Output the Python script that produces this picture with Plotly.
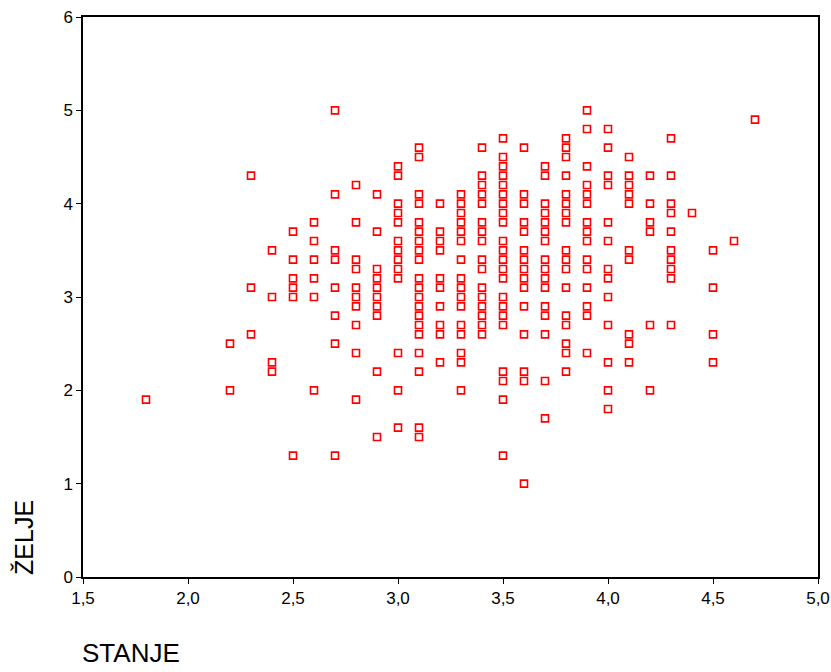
import plotly.graph_objects as go

# STANJE values (x columns) and the ŽELJE values observed at each column
stanje_cols = [1.8, 2.2, 2.3, 2.4, 2.5, 2.6, 2.7, 2.8, 2.9, 3.0, 3.1, 3.2, 3.3,
               3.4, 3.5, 3.6, 3.7, 3.8, 3.9, 4.0, 4.1, 4.2, 4.3, 4.4, 4.5, 4.6, 4.7]
zelje_cols = [
    [1.9],
    [2.5, 2.0],
    [4.3, 3.1, 2.6],
    [3.5, 3.0, 2.3, 2.2],
    [3.7, 3.4, 3.2, 3.1, 3.0, 1.3],
    [3.8, 3.6, 3.4, 3.2, 3.0, 2.0],
    [5.0, 4.1, 3.5, 3.4, 3.1, 2.8, 2.5, 1.3],
    [4.2, 3.8, 3.4, 3.3, 3.1, 3.0, 2.9, 2.7, 2.4, 1.9],
    [4.1, 3.7, 3.3, 3.2, 3.1, 3.0, 2.9, 2.8, 2.2, 1.5],
    [4.4, 4.3, 4.0, 3.9, 3.8, 3.6, 3.5, 3.4, 3.3, 3.2, 2.4, 2.0, 1.6],
    [4.6, 4.5, 4.1, 4.0, 3.8, 3.7, 3.6, 3.5, 3.4, 3.2, 3.1, 3.0, 2.9, 2.8, 2.7, 2.6, 2.4, 2.2, 1.6, 1.5],
    [4.0, 3.7, 3.6, 3.5, 3.2, 3.1, 2.9, 2.7, 2.6, 2.3],
    [4.1, 4.0, 3.9, 3.8, 3.7, 3.6, 3.4, 3.2, 3.1, 3.0, 2.9, 2.7, 2.6, 2.4, 2.3, 2.0],
    [4.6, 4.3, 4.2, 4.1, 4.0, 3.8, 3.7, 3.6, 3.4, 3.3, 3.1, 3.0, 2.9, 2.8, 2.7, 2.6],
    [4.7, 4.5, 4.4, 4.3, 4.2, 4.1, 4.0, 3.9, 3.8, 3.6, 3.5, 3.4, 3.3, 3.2, 3.0, 2.9, 2.8, 2.7, 2.2, 2.1, 1.9, 1.3],
    [4.6, 4.1, 4.0, 3.8, 3.7, 3.5, 3.4, 3.3, 3.2, 3.1, 2.9, 2.6, 2.2, 2.1, 1.0],
    [4.4, 4.3, 4.0, 3.9, 3.8, 3.7, 3.6, 3.4, 3.3, 3.2, 3.1, 2.9, 2.8, 2.6, 2.1, 1.7],
    [4.7, 4.6, 4.5, 4.3, 4.1, 4.0, 3.9, 3.8, 3.5, 3.4, 3.3, 3.1, 2.8, 2.7, 2.5, 2.4, 2.2],
    [5.0, 4.8, 4.4, 4.2, 4.1, 4.0, 3.8, 3.7, 3.6, 3.4, 3.3, 3.1, 2.9, 2.8, 2.4],
    [4.8, 4.6, 4.3, 4.2, 3.8, 3.6, 3.3, 3.2, 3.0, 2.7, 2.3, 2.0, 1.8],
    [4.5, 4.3, 4.2, 4.1, 4.0, 3.5, 3.4, 2.6, 2.5, 2.3],
    [4.3, 4.0, 3.8, 3.7, 2.7, 2.0],
    [4.7, 4.3, 4.0, 3.9, 3.7, 3.5, 3.4, 3.3, 3.2, 2.7],
    [3.9],
    [3.5, 3.1, 2.6, 2.3],
    [3.6],
    [4.9],
]

x_ticks = [1.5, 2.0, 2.5, 3.0, 3.5, 4.0, 4.5, 5.0]
x_ticklabels = ["1,5", "2,0", "2,5", "3,0", "3,5", "4,0", "4,5", "5,0"]
y_ticks = [0, 1, 2, 3, 4, 5, 6]

xs, ys = [], []
for xv, col in zip(stanje_cols, zelje_cols):
    for yv in col:
        xs.append(xv)
        ys.append(yv)

fig = go.Figure()
fig.add_trace(go.Scatter(
    x=xs, y=ys, mode="markers",
    marker=dict(symbol="square-open", size=7, color="#ff0000",
                line=dict(color="#ff0000", width=1.6)),
    showlegend=False, hoverinfo="x+y", cliponaxis=False,
))

font_family = "Liberation Sans, Arial"
axis_common = dict(showline=True, linecolor="black", linewidth=1.5, mirror=True,
                   ticks="outside", ticklen=5, tickwidth=1.2, tickcolor="black",
                   showgrid=False, zeroline=False, automargin=False,
                   tickfont=dict(family=font_family, size=17, color="black"))

fig.update_xaxes(range=[1.5, 5.0], tickvals=x_ticks, ticktext=x_ticklabels, **axis_common)
fig.update_yaxes(range=[0, 6], tickvals=y_ticks, **axis_common)

fig.update_layout(
    width=831, height=672,
    margin=dict(l=83, r=13, t=17, b=95),
    paper_bgcolor="white", plot_bgcolor="white",
    annotations=[
        dict(text="STANJE", xref="paper", yref="paper", x=0, y=-0.166,
             xanchor="left", yanchor="bottom", showarrow=False, xshift=-3,
             font=dict(family=font_family, size=26, color="black")),
        dict(text="ŽELJE", xref="paper", yref="paper", x=-0.081, y=0,
             xanchor="center", yanchor="bottom", showarrow=False, textangle=-90,
             font=dict(family=font_family, size=25, color="black")),
    ],
)

fig.write_html("out.html", config={"displayModeBar": False},
               post_script="document.body.style.margin='0';document.body.style.overflow='hidden';")
